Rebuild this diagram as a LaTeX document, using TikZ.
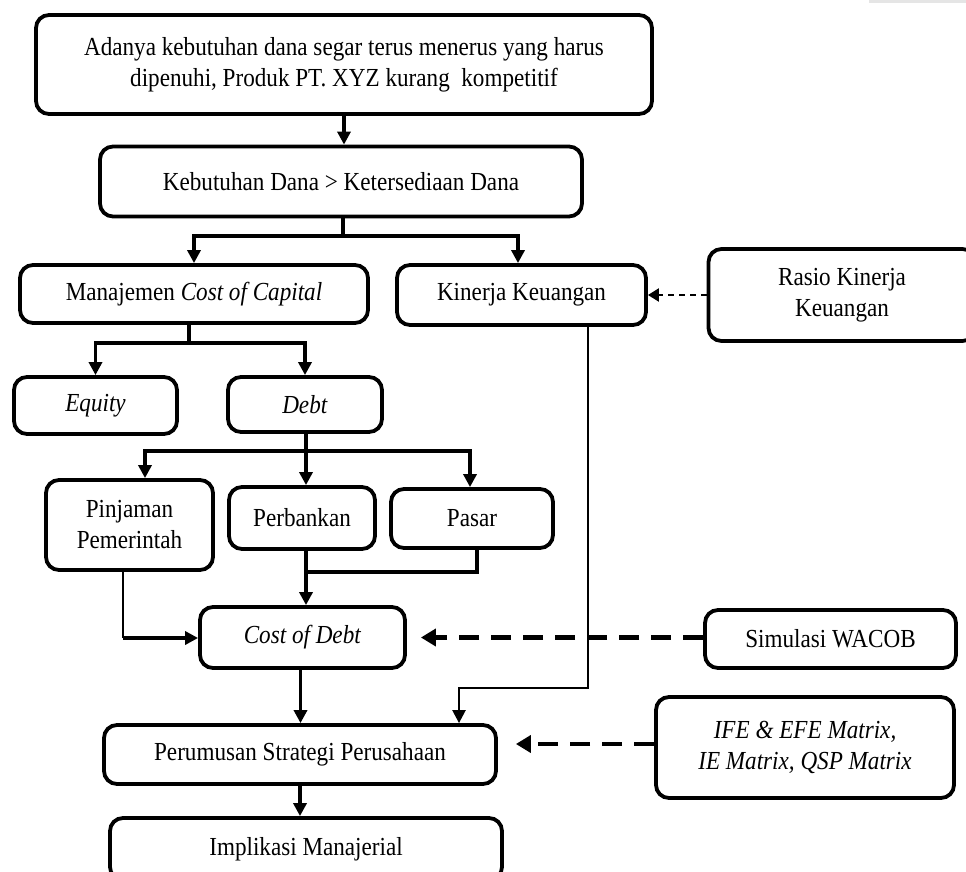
\documentclass[tikz,border=0pt]{standalone}
\usepackage{fontspec}
\setmainfont{Liberation Serif}[FakeStretch=0.89]
\usetikzlibrary{arrows.meta}
\newcommand\myfs{\fontsize{26}{31}\selectfont}
\begin{document}
\begin{tikzpicture}[x=1pt,y=-1pt,
  box/.style={draw, line width=3.8pt, rounded corners=13pt, inner sep=0pt, align=center, font=\myfs},
  ln/.style={line width=3.3pt},
  arr/.style={line width=3.3pt, -{Triangle[length=13pt,width=13pt]}},
  thinarr/.style={line width=2.4pt, -{Triangle[length=13pt,width=13pt]}},
  smalldash/.style={line width=2.2pt, dash pattern=on 6pt off 5pt, -{Triangle[length=11pt,width=13pt]}},
  bigdash/.style={line width=4.5pt, dash pattern=on 20pt off 12pt, -{Triangle[length=15pt,width=17pt]}}]
\useasboundingbox (0,0) rectangle (966,872);
\fill[gray!20] (869,0) rectangle (966,3);
% boxes
\node[box, minimum width=616pt, minimum height=99pt] (top) at (344,64.5)
  {Adanya kebutuhan dana segar terus menerus yang harus\\dipenuhi, Produk PT. XYZ kurang~ kompetitif};
\node[box, minimum width=482pt, minimum height=70pt] (need) at (341,181.5) {Kebutuhan Dana > Ketersediaan Dana};
\node[box, minimum width=348pt, minimum height=58pt] (mcc) at (194,294) {Manajemen \textit{Cost of Capital}};
\node[box, minimum width=249pt, minimum height=60pt] (kin) at (521.5,295) {Kinerja Keuangan};
\node[box, minimum width=267pt, minimum height=92pt] (rasio) at (842,295) {Rasio Kinerja\\Keuangan};
\node[box, minimum width=163pt, minimum height=57pt] (equity) at (95.5,405.5) {\textit{Equity}};
\node[box, minimum width=154pt, minimum height=55pt] (debt) at (305,404.5) {\textit{Debt}};
\node[box, minimum width=167pt, minimum height=90pt] (pinj) at (129.5,525) {Pinjaman\\Pemerintah};
\node[box, minimum width=146pt, minimum height=62pt] (bank) at (302,518) {Perbankan};
\node[box, minimum width=162pt, minimum height=59pt] (pasar) at (472,518.5) {Pasar};
\node[box, minimum width=205pt, minimum height=61pt] (cod) at (302.5,637.5) {\textit{Cost of Debt}};
\node[box, minimum width=251pt, minimum height=58pt] (wacob) at (830.5,639) {Simulasi WACOB};
\node[box, minimum width=392pt, minimum height=59pt] (perum) at (300,754.5) {Perumusan Strategi Perusahaan};
\node[box, minimum width=298pt, minimum height=101pt] (ife) at (805,747.5) {\textit{IFE \& EFE Matrix,}\\\textit{IE Matrix, QSP Matrix}};
\node[box, minimum width=392pt, minimum height=62pt] (impl) at (306,849) {Implikasi Manajerial};
% connectors
\draw[arr] (top.south) -- (top.south |- need.north);
\coordinate (j1) at (343,236);
\draw[ln] (need.south -| j1) -- (j1);
\draw[arr] (j1) -| (mcc.north);
\draw[arr] (j1) -| ([xshift=-3.5pt]kin.north);
\coordinate (j2) at (189,343);
\draw[ln] (mcc.south -| j2) -- (j2);
\draw[arr] (j2) -| (equity.north);
\draw[arr] (j2) -| (debt.north);
\coordinate (j3) at (306,451);
\draw[ln] (debt.south -| j3) -- (j3);
\draw[arr] (j3) -| ([xshift=15.5pt]pinj.north);
\draw[arr] (j3) -- (bank.north -| j3);
\draw[arr] (j3) -| ([xshift=-2pt]pasar.north);
\draw[arr] (bank.south -| j3) -- (cod.north -| j3);
\coordinate (j4) at (306,572);
\draw[ln] ([xshift=5pt]pasar.south) |- (j4);
\coordinate (j5) at (123,638);
\draw[line width=1.3pt] (pinj.south -| j5) -- (j5);
\draw[arr] (j5) -- (cod.west |- j5);
\coordinate (j6) at (588,688);
\draw[thinarr] (kin.south -| j6) -- (j6) -| ([xshift=159pt]perum.north);
\draw[arr] ([xshift=-2pt]cod.south) -- ([xshift=-2pt]cod.south |- perum.north);
\draw[arr] (perum.south) -- (perum.south |- impl.north);
\draw[smalldash] (rasio.west) -- (rasio.west -| kin.east);
\coordinate (ce) at ([xshift=14pt]cod.east);
\draw[bigdash] (wacob.west |- cod.east) -- (ce);
\coordinate (pe) at ([xshift=18pt]perum.east);
\draw[bigdash] ([yshift=3.5pt]ife.west) -- ([yshift=3.5pt]ife.west -| pe);
\end{tikzpicture}
\end{document}
